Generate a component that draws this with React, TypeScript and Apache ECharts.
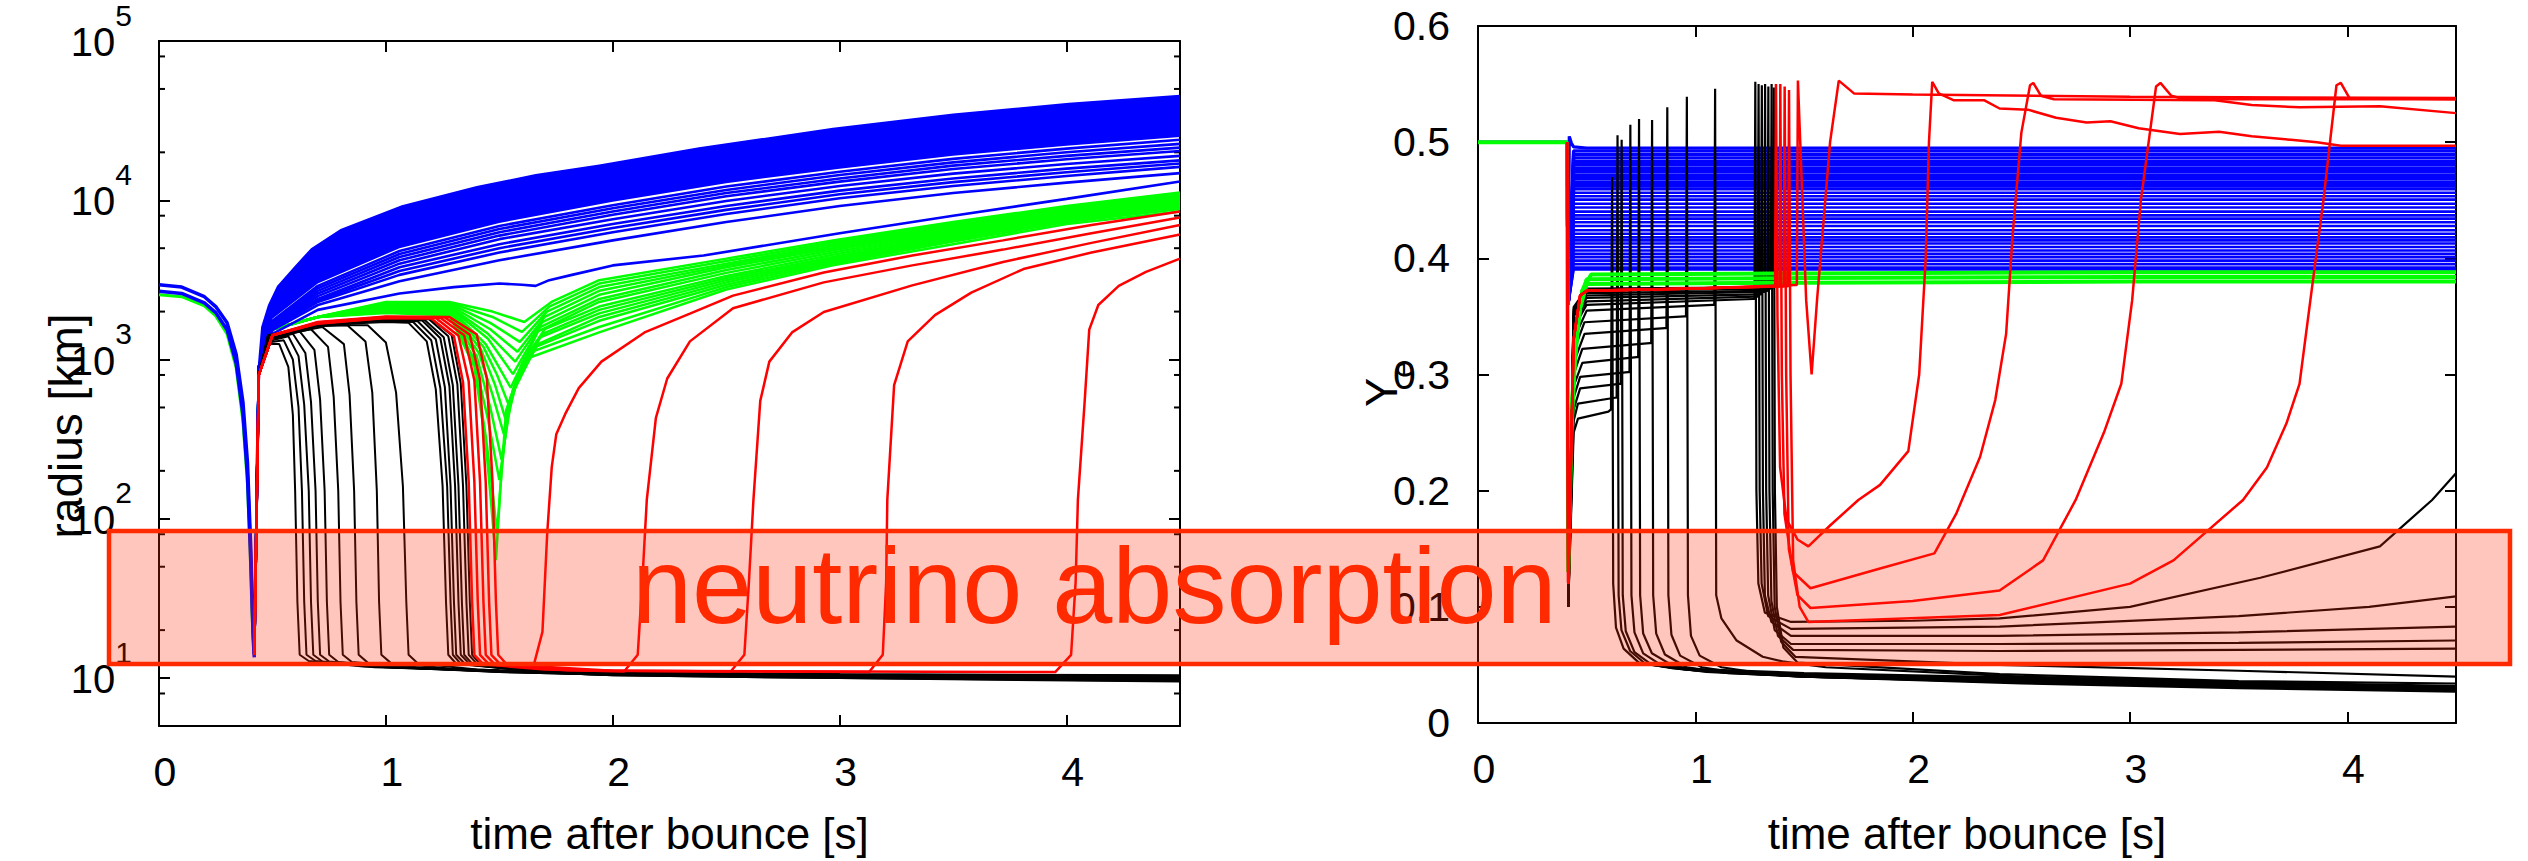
import React, { useEffect, useRef } from 'react';
import * as echarts from 'echarts';

const FONT = '"Liberation Sans", Arial, Helvetica, sans-serif';

// ---------------- axis ticks ----------------
const xTicks = [0, 1, 2, 3, 4];
const radiusMinorTicks = [8, 20, 50, 80, 200, 500, 800, 2000, 5000, 8000, 20000, 50000, 80000];
const yeTicks = [0, 0.1, 0.2, 0.3, 0.4, 0.5, 0.6];

// ---------------- LEFT: radius [km] vs time ----------------
const infallGreen = [[0, 2550], [0.1, 2480], [0.2, 2170], [0.25, 1880], [0.3, 1450], [0.34, 890], [0.37, 410], [0.39, 165], [0.402, 60], [0.41, 25], [0.42, 14]];
const infallBlueTop = [[0, 2950], [0.1, 2850], [0.2, 2480], [0.25, 2150], [0.3, 1700], [0.34, 1080], [0.37, 540], [0.39, 225], [0.405, 62], [0.415, 20], [0.42, 14]];
const infallBlueLow = [[0, 2680], [0.1, 2600], [0.2, 2270], [0.25, 1970], [0.3, 1540], [0.34, 950], [0.37, 455], [0.39, 185], [0.405, 52], [0.415, 18], [0.42, 13.5]];

const blueBandTop = [[0.42, 14], [0.425, 200], [0.435, 900], [0.45, 1600], [0.48, 2200], [0.52, 2900], [0.6, 3900], [0.67, 5000], [0.8, 6600], [1.07, 9300], [1.4, 12300], [1.66, 14600], [1.94, 16800], [2.38, 21500], [2.97, 28500], [3.5, 35000], [4.01, 41000], [4.5, 46000]];
const blueBandBottom = [[0.42, 14], [0.43, 300], [0.44, 900], [0.5, 1800], [0.7, 3000], [1.06, 5000], [1.5, 7200], [2.0, 9800], [2.5, 12800], [3.0, 15800], [3.5, 19000], [4.0, 22000], [4.5, 25000]];

const blueLeftTimes = [0.42, 0.44, 0.5, 0.7, 1.06, 1.5, 2.0, 2.5, 3.0, 3.5, 4.0, 4.5];
const blueLeftRadii = [
  [14, 900, 1750, 2900, 4800, 6900, 9300, 12200, 15100, 18200, 21100, 24000],
  [14, 900, 1700, 2800, 4600, 6600, 8900, 11600, 14400, 17300, 20000, 22600],
  [14, 900, 1680, 2700, 4400, 6300, 8500, 11100, 13700, 16500, 19000, 21400],
  [14, 900, 1650, 2600, 4200, 6000, 8100, 10600, 13100, 15700, 18100, 20400],
  [14, 900, 1620, 2500, 4000, 5700, 7600, 9900, 12300, 14700, 16900, 19000],
  [14, 900, 1600, 2400, 3800, 5300, 7100, 9200, 11500, 13700, 15800, 17800],
  [14, 900, 1580, 2350, 3600, 5000, 6700, 8700, 10900, 13000, 15000, 17000],
  [14, 900, 1560, 2300, 3400, 4700, 6300, 8200, 10300, 12300, 14200, 16200],
  [14, 900, 1530, 2200, 3100, 4200, 5600, 7300, 9200, 11100, 12900, 14800],
];
const blueLeftLowest = [[0.42, 14], [0.44, 800], [0.5, 1450], [0.7, 2050], [1.06, 2600], [1.3, 2850], [1.5, 3000], [1.6, 2950], [1.66, 2900], [1.72, 3150], [1.82, 3400], [2.0, 3900], [2.4, 4500], [3.0, 6200], [3.5, 8000], [4.0, 10200], [4.5, 13100]];

const greenLeftEarly = [[0.42, 14], [0.44, 900], [0.5, 1550], [0.7, 1850]];
const greenLeftLines = [
  [[1.0, 2300], [1.28, 2300], [1.47, 2000], [1.61, 1720], [1.73, 2300], [1.94, 3150], [2.5, 4300], [2.97, 5600], [3.5, 7300], [4.0, 9200], [4.5, 11200]],
  [[1.0, 2270], [1.28, 2270], [1.47, 1850], [1.60, 1490], [1.72, 2150], [1.94, 3000], [2.5, 4150], [2.97, 5450], [3.5, 7150], [4.0, 9000], [4.5, 11000]],
  [[1.0, 2240], [1.28, 2240], [1.46, 1700], [1.59, 1290], [1.71, 2000], [1.94, 2850], [2.5, 4000], [2.97, 5300], [3.5, 7000], [4.0, 8850], [4.5, 10800]],
  [[1.0, 2210], [1.28, 2200], [1.46, 1550], [1.58, 1120], [1.70, 1850], [1.94, 2700], [2.5, 3900], [2.97, 5150], [3.5, 6850], [4.0, 8700], [4.5, 10600]],
  [[1.0, 2180], [1.28, 2160], [1.45, 1450], [1.57, 970], [1.69, 1720], [1.94, 2550], [2.5, 3800], [2.97, 5000], [3.5, 6700], [4.0, 8550], [4.5, 10400]],
  [[1.0, 2150], [1.28, 2130], [1.45, 1350], [1.56, 810], [1.68, 1600], [1.94, 2400], [2.5, 3650], [2.97, 4850], [3.5, 6550], [4.0, 8400], [4.5, 10200]],
  [[1.0, 2120], [1.28, 2100], [1.44, 1250], [1.55, 665], [1.67, 1500], [1.94, 2300], [2.5, 3500], [2.97, 4700], [3.5, 6400], [4.0, 8250], [4.5, 10000]],
  [[1.0, 2090], [1.28, 2070], [1.43, 1200], [1.49, 800], [1.54, 525], [1.60, 950], [1.70, 1550], [1.94, 2150], [2.5, 3350], [2.97, 4550], [3.5, 6250], [4.0, 8100], [4.5, 9800]],
  [[1.0, 2060], [1.28, 2040], [1.42, 1150], [1.48, 700], [1.53, 410], [1.59, 850], [1.69, 1450], [1.94, 2050], [2.5, 3250], [2.97, 4400], [3.5, 6100], [4.0, 7950], [4.5, 9600]],
  [[1.0, 2040], [1.28, 2010], [1.41, 1100], [1.47, 600], [1.52, 340], [1.58, 780], [1.68, 1380], [1.94, 1950], [2.5, 3150], [2.97, 4300], [3.5, 5950], [4.0, 7800], [4.5, 9400]],
  [[1.0, 2020], [1.28, 1990], [1.40, 1050], [1.46, 500], [1.51, 235], [1.56, 650], [1.67, 1250], [1.94, 1850], [2.5, 3050], [2.97, 4200], [3.5, 5800], [4.0, 7650], [4.5, 9200]],
  [[1.0, 2000], [1.28, 1960], [1.39, 1000], [1.45, 420], [1.50, 175], [1.55, 580], [1.66, 1200], [1.94, 1750], [2.5, 2950], [2.97, 4100], [3.5, 5650], [4.0, 7500], [4.5, 9000]],
  [[1.0, 1980], [1.28, 1930], [1.39, 950], [1.44, 330], [1.47, 150], [1.49, 81], [1.51, 200], [1.54, 520], [1.63, 1100], [1.94, 1600], [2.5, 2850], [2.97, 4000], [3.5, 5500], [4.0, 7300], [4.5, 8800]],
  [[1.0, 1960], [1.28, 1900], [1.39, 900], [1.44, 300], [1.465, 120], [1.485, 55], [1.505, 160], [1.53, 480], [1.61, 1000], [1.94, 1480], [2.5, 2750], [2.97, 3900], [3.5, 5300], [4.0, 7100], [4.5, 8500]],
];

const blackLeftLines = [
  [[0.42, 14], [0.44, 800], [0.48, 1250], [0.53, 1250], [0.57, 900], [0.59, 450], [0.60, 150], [0.61, 30], [0.62, 14], [0.66, 12.8], [0.9, 11.8], [1.5, 11.2], [2.0, 10.8], [3.0, 10.5], [4.5, 10.3]],
  [[0.42, 14], [0.44, 800], [0.48, 1280], [0.55, 1320], [0.59, 1000], [0.615, 500], [0.63, 150], [0.64, 30], [0.65, 14], [0.69, 12.8], [0.95, 11.7], [1.5, 11.1], [2.0, 10.7], [3.0, 10.4], [4.5, 10.2]],
  [[0.42, 14], [0.44, 800], [0.48, 1300], [0.57, 1400], [0.615, 1050], [0.64, 520], [0.66, 150], [0.67, 30], [0.68, 14], [0.72, 12.7], [1.0, 11.7], [1.5, 11.1], [2.0, 10.7], [3.0, 10.4], [4.5, 10.1]],
  [[0.42, 14], [0.44, 800], [0.48, 1320], [0.59, 1450], [0.645, 1100], [0.67, 540], [0.69, 150], [0.70, 30], [0.71, 14], [0.75, 12.7], [1.05, 11.6], [1.5, 11.0], [2.0, 10.6], [3.0, 10.3], [4.5, 10.0]],
  [[0.42, 14], [0.44, 800], [0.48, 1340], [0.62, 1500], [0.685, 1150], [0.71, 560], [0.73, 150], [0.74, 30], [0.75, 14], [0.79, 12.6], [1.1, 11.6], [1.5, 11.0], [2.0, 10.6], [3.0, 10.2], [4.5, 9.9]],
  [[0.42, 14], [0.44, 800], [0.48, 1360], [0.67, 1550], [0.745, 1200], [0.77, 580], [0.79, 150], [0.80, 30], [0.81, 14], [0.85, 12.6], [1.15, 11.5], [1.5, 10.9], [2.0, 10.5], [3.0, 10.2], [4.5, 9.8]],
  [[0.42, 14], [0.44, 800], [0.48, 1380], [0.72, 1600], [0.815, 1250], [0.84, 600], [0.86, 150], [0.87, 30], [0.88, 14], [0.92, 12.5], [1.2, 11.5], [1.5, 10.9], [2.0, 10.5], [3.0, 10.1], [4.5, 9.7]],
  [[0.42, 14], [0.44, 800], [0.48, 1400], [0.7, 1620], [0.83, 1640], [0.91, 1300], [0.94, 620], [0.96, 150], [0.97, 30], [0.98, 14], [1.02, 12.5], [1.3, 11.4], [2.0, 10.4], [3.0, 10.0], [4.5, 9.6]],
  [[0.42, 14], [0.44, 800], [0.48, 1420], [0.7, 1650], [0.92, 1640], [1.0, 1280], [1.045, 620], [1.075, 160], [1.09, 30], [1.10, 14], [1.14, 12.4], [1.4, 11.3], [2.0, 10.4], [3.0, 10.0], [4.5, 9.5]],
  [[0.42, 14], [0.44, 800], [0.5, 1400], [0.7, 1650], [1.0, 1720], [1.1, 1700], [1.18, 1300], [1.22, 650], [1.25, 160], [1.265, 30], [1.275, 14], [1.31, 12.3], [1.6, 11.2], [2.0, 10.9], [3.0, 10.6], [4.5, 10.4]],
  [[0.42, 14], [0.44, 800], [0.5, 1400], [0.7, 1660], [1.0, 1740], [1.12, 1720], [1.2, 1320], [1.24, 660], [1.27, 160], [1.285, 30], [1.295, 14], [1.33, 12.3], [1.6, 11.2], [2.0, 10.8], [3.0, 10.5], [4.5, 10.3]],
  [[0.42, 14], [0.44, 800], [0.5, 1400], [0.7, 1670], [1.0, 1760], [1.14, 1740], [1.22, 1340], [1.26, 670], [1.285, 160], [1.30, 30], [1.31, 14], [1.35, 12.2], [1.65, 11.1], [2.0, 10.8], [3.0, 10.5], [4.5, 10.2]],
  [[0.42, 14], [0.44, 800], [0.5, 1400], [0.7, 1680], [1.0, 1780], [1.16, 1760], [1.24, 1360], [1.28, 680], [1.305, 160], [1.32, 30], [1.33, 14], [1.37, 12.2], [1.7, 11.1], [2.0, 10.7], [3.0, 10.4], [4.5, 10.1]],
  [[0.42, 14], [0.44, 800], [0.5, 1400], [0.7, 1690], [1.0, 1790], [1.17, 1780], [1.255, 1380], [1.295, 690], [1.32, 160], [1.335, 30], [1.345, 14], [1.385, 12.1], [1.7, 11.0], [2.0, 10.7], [3.0, 10.3], [4.5, 10.0]],
  [[0.42, 14], [0.44, 800], [0.5, 1400], [0.7, 1700], [1.0, 1800], [1.19, 1790], [1.275, 1400], [1.315, 700], [1.34, 160], [1.355, 30], [1.365, 14], [1.405, 12.1], [1.75, 11.0], [2.0, 10.6], [3.0, 10.3], [4.5, 9.9]],
  [[0.42, 14], [0.44, 800], [0.5, 1400], [0.7, 1710], [1.0, 1810], [1.2, 1800], [1.29, 1420], [1.33, 710], [1.355, 160], [1.37, 30], [1.38, 14], [1.42, 12.0], [1.8, 11.0], [2.0, 10.6], [3.0, 10.2], [4.5, 9.8]],
];

const redLeftLines = [
  [[0.42, 14], [0.44, 800], [0.5, 1420], [0.7, 1680], [1.0, 1820], [1.2, 1810], [1.30, 1400], [1.34, 720], [1.365, 170], [1.38, 30], [1.39, 14], [1.43, 12.2], [1.7, 11.3], [2.05, 11.0], [2.11, 14], [2.13, 40], [2.15, 132], [2.19, 430], [2.24, 760], [2.34, 1300], [2.53, 2100], [2.93, 3050], [3.32, 3900], [3.72, 4900], [4.11, 6200], [4.5, 7800]],
  [[0.42, 14], [0.44, 800], [0.5, 1420], [0.7, 1690], [1.0, 1830], [1.22, 1820], [1.32, 1410], [1.365, 730], [1.39, 170], [1.405, 30], [1.415, 14], [1.455, 12.2], [1.8, 11.2], [2.52, 11.0], [2.58, 14], [2.60, 40], [2.62, 132], [2.65, 550], [2.69, 970], [2.79, 1480], [2.93, 1990], [3.32, 2920], [3.72, 4100], [4.11, 5400], [4.5, 7000]],
  [[0.42, 14], [0.44, 800], [0.5, 1420], [0.7, 1700], [1.0, 1840], [1.24, 1830], [1.345, 1420], [1.39, 740], [1.415, 170], [1.43, 30], [1.44, 14], [1.48, 12.2], [1.9, 11.1], [3.13, 10.9], [3.19, 14], [3.205, 40], [3.21, 132], [3.24, 690], [3.30, 1300], [3.42, 1900], [3.58, 2630], [3.81, 3700], [4.11, 4700], [4.5, 6100]],
  [[0.42, 14], [0.44, 800], [0.5, 1420], [0.7, 1710], [1.0, 1850], [1.26, 1840], [1.37, 1430], [1.415, 750], [1.44, 170], [1.455, 30], [1.465, 14], [1.505, 12.2], [2.0, 11.1], [3.95, 10.9], [4.02, 14], [4.04, 40], [4.05, 132], [4.08, 550], [4.10, 1540], [4.14, 2200], [4.23, 2900], [4.35, 3550], [4.5, 4300]],
  [[0.42, 14], [0.44, 800], [0.5, 1420], [0.7, 1720], [1.0, 1860], [1.28, 1850], [1.40, 1440], [1.445, 760], [1.47, 170], [1.485, 30], [1.495, 14], [1.53, 12.3], [1.62, 12.0], [1.652, 12.1], [1.69, 19.5], [1.711, 81], [1.731, 211], [1.751, 340], [1.79, 454], [1.85, 661], [1.95, 970], [2.14, 1480], [2.34, 1940], [2.53, 2520], [2.93, 3520], [3.32, 4500], [3.72, 5600], [4.11, 7000], [4.5, 8500]],
];

// ---------------- RIGHT: Y_e vs time ----------------
const blueRightTop = [[0, 0.5], [0.41, 0.5], [0.415, 0.36], [0.42, 0.505], [0.43, 0.499], [0.44, 0.496], [0.5, 0.495], [4.5, 0.495]];
const blueRightDenseLevels = [0.4925, 0.4895, 0.4865, 0.4835, 0.4805, 0.4775, 0.4745, 0.4715, 0.4685, 0.4655, 0.4625, 0.4598];
const blueRightSparseLevels = [0.4565, 0.4535, 0.4505, 0.447, 0.4438, 0.4402, 0.437, 0.4342, 0.431, 0.4278, 0.4242, 0.4212, 0.418, 0.4155, 0.4128, 0.4098, 0.4068, 0.4038, 0.401, 0.398, 0.395, 0.392, 0.3905];
const blueRightDrop = [[0.41, 0.5], [0.415, 0.36]];
const blueRightTimes = [0.44, 4.5];

const greenRightPre = [[0, 0.5], [0.41, 0.5], [0.415, 0.13], [0.43, 0.25], [0.45, 0.33], [0.48, 0.372], [0.5, 0.381]];
const greenRightLines = [
  [[0.43, 0.27], [0.46, 0.35], [0.5, 0.378], [1.5, 0.379], [3.0, 0.38], [4.5, 0.38]],
  [[0.44, 0.3], [0.47, 0.36], [0.5, 0.382], [1.5, 0.383], [3.0, 0.384], [4.5, 0.384]],
  [[0.45, 0.33], [0.48, 0.372], [0.52, 0.386], [1.5, 0.387], [3.0, 0.388], [4.5, 0.388]],
];

const blackRightLines = [
  [[0.41, 0.5], [0.415, 0.1], [0.44, 0.25], [0.46, 0.262], [0.6, 0.268], [0.612, 0.27], [0.617, 0.47], [0.622, 0.12], [0.635, 0.082], [0.67, 0.064], [0.74, 0.052], [0.9, 0.047], [1.5, 0.043], [2.5, 0.039], [3.5, 0.035], [4.5, 0.032]],
  [[0.41, 0.5], [0.415, 0.1], [0.44, 0.26], [0.46, 0.275], [0.63, 0.28], [0.638, 0.28], [0.642, 0.506], [0.647, 0.11], [0.66, 0.08], [0.7, 0.062], [0.77, 0.051], [0.95, 0.046], [1.5, 0.042], [2.5, 0.038], [3.5, 0.034], [4.5, 0.031]],
  [[0.41, 0.5], [0.415, 0.1], [0.44, 0.27], [0.47, 0.288], [0.65, 0.292], [0.657, 0.292], [0.661, 0.502], [0.666, 0.11], [0.68, 0.079], [0.72, 0.061], [0.8, 0.05], [1.0, 0.045], [1.5, 0.041], [2.5, 0.037], [3.5, 0.033], [4.5, 0.03]],
  [[0.41, 0.5], [0.415, 0.1], [0.44, 0.28], [0.47, 0.298], [0.69, 0.302], [0.697, 0.302], [0.701, 0.515], [0.706, 0.11], [0.72, 0.078], [0.76, 0.06], [0.85, 0.049], [1.05, 0.044], [1.5, 0.04], [2.5, 0.036], [3.5, 0.032], [4.5, 0.029]],
  [[0.41, 0.5], [0.415, 0.1], [0.44, 0.29], [0.48, 0.31], [0.73, 0.315], [0.737, 0.315], [0.741, 0.52], [0.746, 0.11], [0.76, 0.077], [0.8, 0.06], [0.9, 0.049], [1.1, 0.044], [1.5, 0.04], [2.5, 0.035], [3.5, 0.031], [4.5, 0.028]],
  [[0.41, 0.5], [0.415, 0.1], [0.44, 0.3], [0.48, 0.322], [0.79, 0.327], [0.797, 0.327], [0.801, 0.519], [0.806, 0.11], [0.82, 0.077], [0.86, 0.059], [0.96, 0.048], [1.15, 0.043], [1.5, 0.04], [2.5, 0.035], [3.5, 0.031], [4.5, 0.028]],
  [[0.41, 0.5], [0.415, 0.1], [0.44, 0.31], [0.49, 0.335], [0.86, 0.34], [0.867, 0.34], [0.871, 0.53], [0.876, 0.11], [0.89, 0.076], [0.93, 0.058], [1.03, 0.048], [1.2, 0.043], [1.5, 0.04], [2.5, 0.034], [3.5, 0.03], [4.5, 0.027]],
  [[0.41, 0.5], [0.415, 0.1], [0.44, 0.32], [0.49, 0.345], [0.95, 0.35], [0.957, 0.35], [0.961, 0.539], [0.966, 0.11], [0.98, 0.075], [1.02, 0.058], [1.12, 0.048], [1.3, 0.043], [1.6, 0.04], [2.5, 0.035], [3.5, 0.031], [4.5, 0.028]],
  [[0.41, 0.5], [0.415, 0.1], [0.44, 0.33], [0.5, 0.355], [1.08, 0.36], [1.087, 0.36], [1.091, 0.546], [1.096, 0.11], [1.12, 0.09], [1.19, 0.071], [1.31, 0.057], [1.4, 0.053], [1.6, 0.048], [2.5, 0.04], [3.5, 0.035], [4.5, 0.031]],
  [[0.41, 0.5], [0.415, 0.1], [0.44, 0.34], [0.5, 0.36], [1.265, 0.365], [1.272, 0.365], [1.276, 0.552], [1.281, 0.2], [1.29, 0.12], [1.32, 0.095], [1.44, 0.087], [2.0, 0.088], [2.4, 0.09], [3.0, 0.1], [3.6, 0.125], [4.15, 0.152], [4.39, 0.192], [4.5, 0.215]],
  [[0.41, 0.5], [0.415, 0.1], [0.44, 0.345], [0.5, 0.363], [1.28, 0.367], [1.287, 0.367], [1.291, 0.55], [1.296, 0.2], [1.305, 0.12], [1.335, 0.092], [1.44, 0.081], [2.4, 0.083], [3.5, 0.092], [4.1, 0.1], [4.5, 0.109]],
  [[0.41, 0.5], [0.415, 0.1], [0.44, 0.35], [0.5, 0.366], [1.295, 0.369], [1.302, 0.369], [1.306, 0.549], [1.311, 0.2], [1.32, 0.11], [1.35, 0.087], [1.44, 0.075], [2.4, 0.075], [3.5, 0.078], [4.5, 0.083]],
  [[0.41, 0.5], [0.415, 0.1], [0.44, 0.352], [0.5, 0.368], [1.31, 0.371], [1.317, 0.371], [1.321, 0.55], [1.326, 0.2], [1.335, 0.11], [1.365, 0.08], [1.44, 0.068], [2.4, 0.068], [3.5, 0.069], [4.5, 0.071]],
  [[0.41, 0.5], [0.415, 0.1], [0.44, 0.354], [0.5, 0.37], [1.325, 0.372], [1.332, 0.372], [1.336, 0.548], [1.341, 0.2], [1.35, 0.105], [1.38, 0.075], [1.45, 0.063], [2.4, 0.062], [3.5, 0.063], [4.5, 0.064]],
  [[0.41, 0.5], [0.415, 0.1], [0.44, 0.356], [0.5, 0.372], [1.34, 0.374], [1.347, 0.374], [1.351, 0.55], [1.356, 0.2], [1.365, 0.1], [1.395, 0.07], [1.46, 0.057], [2.4, 0.05], [3.5, 0.045], [4.5, 0.04]],
  [[0.41, 0.5], [0.415, 0.1], [0.44, 0.358], [0.5, 0.374], [1.35, 0.375], [1.357, 0.375], [1.361, 0.547], [1.366, 0.2], [1.375, 0.1], [1.405, 0.065], [1.47, 0.052], [2.4, 0.042], [3.5, 0.036], [4.5, 0.034]],
];

const redRightPre = [[0.41, 0.5], [0.415, 0.12], [0.44, 0.33], [0.47, 0.368], [0.5, 0.372], [1.0, 0.374]];
const redRightLines = [
  [[1.36, 0.376], [1.367, 0.376], [1.371, 0.55], [1.378, 0.35], [1.39, 0.22], [1.42, 0.175], [1.47, 0.158], [1.52, 0.152], [1.62, 0.17], [1.75, 0.192], [1.85, 0.205], [1.98, 0.234], [2.03, 0.3], [2.06, 0.4], [2.075, 0.5], [2.09, 0.552], [2.12, 0.542], [2.19, 0.536], [2.33, 0.536], [2.4, 0.529], [2.53, 0.528], [2.66, 0.521], [2.8, 0.517], [2.91, 0.518], [3.04, 0.512], [3.23, 0.507], [3.41, 0.509], [3.56, 0.505], [3.74, 0.502], [3.86, 0.5], [3.97, 0.497], [4.5, 0.497]],
  [[1.38, 0.376], [1.387, 0.376], [1.391, 0.55], [1.398, 0.3], [1.41, 0.18], [1.45, 0.13], [1.53, 0.116], [1.85, 0.133], [2.1, 0.146], [2.2, 0.18], [2.31, 0.229], [2.38, 0.278], [2.43, 0.335], [2.46, 0.42], [2.5, 0.508], [2.54, 0.549], [2.555, 0.551], [2.59, 0.54], [2.65, 0.537], [3.39, 0.536], [3.56, 0.532], [3.78, 0.53], [4.15, 0.531], [4.5, 0.525]],
  [[1.4, 0.376], [1.407, 0.376], [1.411, 0.548], [1.418, 0.3], [1.43, 0.15], [1.47, 0.11], [1.53, 0.099], [2.0, 0.105], [2.4, 0.114], [2.6, 0.14], [2.75, 0.192], [2.88, 0.25], [2.96, 0.292], [3.01, 0.364], [3.05, 0.45], [3.12, 0.548], [3.14, 0.551], [3.19, 0.54], [3.25, 0.537], [4.5, 0.537]],
  [[1.42, 0.376], [1.427, 0.376], [1.431, 0.545], [1.438, 0.3], [1.45, 0.14], [1.48, 0.1], [1.52, 0.087], [2.4, 0.093], [3.0, 0.12], [3.2, 0.14], [3.52, 0.192], [3.63, 0.22], [3.72, 0.258], [3.78, 0.292], [3.83, 0.364], [3.89, 0.45], [3.95, 0.549], [3.97, 0.551], [4.01, 0.538], [4.5, 0.537]],
  [[1.46, 0.377], [1.467, 0.377], [1.472, 0.553], [1.51, 0.364], [1.535, 0.3], [1.56, 0.364], [1.62, 0.5], [1.66, 0.553], [1.73, 0.542], [2.0, 0.541], [3.0, 0.539], [4.5, 0.538]],
];

// ---------------- colours ----------------
const BLUE = '#0000ff';
const GREEN = '#00ff00';
const RED = '#ff0000';
const BLACK = '#000000';

function leftLine(data: any, color: string, width: number) {
  return { type: 'line', xAxisIndex: 0, yAxisIndex: 0, data, symbol: 'none', showSymbol: false, silent: true, lineStyle: { color, width }, clip: true };
}
function rightLine(data: any, color: string, width: number) {
  return { type: 'line', xAxisIndex: 2, yAxisIndex: 2, data, symbol: 'none', showSymbol: false, silent: true, lineStyle: { color, width }, clip: true };
}

function xAxisCfg(grid: number, position: string, labels: boolean) {
  return {
    gridIndex: grid, type: 'value', min: 0, max: 4.5, interval: 1, position,
    axisLine: { show: true, onZero: false, lineStyle: { color: '#000', width: 2 } },
    axisTick: { show: true, inside: true, length: 11, lineStyle: { color: '#000', width: 2 } },
    axisLabel: {
      show: labels, margin: 25, fontSize: 41, fontFamily: FONT, color: '#000', padding: [0, 0, 0, 12],
      formatter: (v: number) => (xTicks.indexOf(v) >= 0 ? String(v) : ''),
    },
    splitLine: { show: false },
    ...(labels ? {
      name: 'time after bounce [s]', nameLocation: 'middle', nameGap: grid === 0 ? 85 : 88,
      nameTextStyle: { fontSize: 44, fontFamily: FONT, color: '#000' },
    } : {}),
  };
}

export default function App() {
  const ref = useRef<HTMLDivElement>(null);
  useEffect(() => {
    if (!ref.current) return;
    const chart = echarts.init(ref.current, null, { renderer: 'svg' });
    const series: any[] = [];

    // ----- left plot -----
    const bluePolygon = [...blueBandTop, ...blueBandBottom.slice().reverse()];
    greenLeftLines.forEach((l) => series.push(leftLine([...greenLeftEarly, ...l], GREEN, 2.5)));
    series.push(leftLine(infallGreen, GREEN, 3));
    series.push({
      type: 'custom', xAxisIndex: 0, yAxisIndex: 0, silent: true, data: bluePolygon,
      renderItem: (params: any, api: any) => {
        if (params.dataIndex !== 0) return null;
        return { type: 'polygon', shape: { points: bluePolygon.map((p) => api.coord(p)) }, style: { fill: BLUE } };
      },
    });
    series.push(leftLine(infallBlueTop, BLUE, 3.5));
    series.push(leftLine(infallBlueLow, BLUE, 3.5));
    blueLeftRadii.forEach((vals) => series.push(leftLine(blueLeftTimes.map((t, i) => [t, vals[i]]), BLUE, 2.6)));
    series.push(leftLine(blueLeftLowest, BLUE, 2.6));
    blackLeftLines.forEach((l) => series.push(leftLine(l, BLACK, 2)));
    redLeftLines.forEach((l) => series.push(leftLine(l, RED, 2.5)));
    series.push({
      type: 'custom', xAxisIndex: 0, yAxisIndex: 0, silent: true, data: radiusMinorTicks.map((v) => [0, v]),
      renderItem: (params: any, api: any) => {
        const v = api.value(1);
        const a = api.coord([0, v]);
        const b = api.coord([4.5, v]);
        const st = { stroke: '#000', lineWidth: 2 };
        return {
          type: 'group', children: [
            { type: 'line', shape: { x1: a[0], y1: a[1], x2: a[0] + 6, y2: a[1] }, style: st },
            { type: 'line', shape: { x1: b[0] - 6, y1: b[1], x2: b[0], y2: b[1] }, style: st },
          ],
        };
      },
    });

    // ----- right plot -----
    series.push(rightLine(blueRightTop, BLUE, 3.2));
    blueRightDenseLevels.forEach((lv) => series.push(rightLine([...blueRightDrop, ...blueRightTimes.map((t) => [t, lv])], BLUE, 3.4)));
    blueRightSparseLevels.forEach((lv) => series.push(rightLine([...blueRightDrop, ...blueRightTimes.map((t) => [t, lv])], BLUE, 2.6)));
    blackRightLines.forEach((l) => series.push(rightLine(l, BLACK, 2.2)));
    series.push(rightLine(greenRightPre, GREEN, 4));
    greenRightLines.forEach((l) => series.push(rightLine(l, GREEN, 4)));
    redRightLines.forEach((l) => series.push(rightLine([...redRightPre, ...l], RED, 2.5)));

    const logLabel = (v: number) => {
      const lg = Math.log10(v);
      const e = Math.round(lg);
      if (Math.abs(lg - e) > 1e-6) return '';
      return `{b|10}{s|${e}}`;
    };

    const option: any = {
      animation: false,
      backgroundColor: '#ffffff',
      grid: [
        { left: 159, top: 36, width: 1021, height: 690 },
        { left: 1478, top: 26, width: 978, height: 697 },
      ],
      xAxis: [xAxisCfg(0, 'bottom', true), xAxisCfg(0, 'top', false), xAxisCfg(1, 'bottom', true), xAxisCfg(1, 'top', false)],
      yAxis: [
        {
          gridIndex: 0, type: 'log', logBase: 10, min: 5, max: 100000, position: 'left',
          axisLine: { show: true, onZero: false, lineStyle: { color: '#000', width: 2 } },
          axisTick: { show: true, inside: true, length: 11, lineStyle: { color: '#000', width: 2 } },
          axisLabel: {
            show: true, margin: 27, formatter: logLabel, padding: [0, 0, 20, 0],
            rich: {
              b: { fontSize: 40, fontFamily: FONT, color: '#000', lineHeight: 62, verticalAlign: 'bottom' },
              s: { fontSize: 30, fontFamily: FONT, color: '#000', lineHeight: 30, verticalAlign: 'top' },
            },
          },
          splitLine: { show: false },
        },
        {
          gridIndex: 0, type: 'log', logBase: 10, min: 5, max: 100000, position: 'right',
          axisLine: { show: true, onZero: false, lineStyle: { color: '#000', width: 2 } },
          axisTick: { show: true, inside: true, length: 11, lineStyle: { color: '#000', width: 2 } },
          axisLabel: { show: false },
          splitLine: { show: false },
        },
        {
          gridIndex: 1, type: 'value', min: 0, max: 0.6, interval: 0.1, position: 'left',
          axisLine: { show: true, onZero: false, lineStyle: { color: '#000', width: 2 } },
          axisTick: { show: true, inside: true, length: 11, lineStyle: { color: '#000', width: 2 } },
          axisLabel: {
            show: true, margin: 28, fontSize: 41, fontFamily: FONT, color: '#000',
            formatter: (v: number) => {
              const k = yeTicks.findIndex((t) => Math.abs(t - v) < 1e-9);
              return k < 0 ? '' : (k === 0 ? '0' : yeTicks[k].toFixed(1));
            },
          },
          splitLine: { show: false },
        },
        {
          gridIndex: 1, type: 'value', min: 0, max: 0.6, interval: 0.1, position: 'right',
          axisLine: { show: true, onZero: false, lineStyle: { color: '#000', width: 2 } },
          axisTick: { show: true, inside: true, length: 11, lineStyle: { color: '#000', width: 2 } },
          axisLabel: { show: false },
          splitLine: { show: false },
        },
      ],
      series,
      graphic: [
        {
          type: 'text', x: 66, y: 426, rotation: Math.PI / 2, silent: true,
          style: { text: 'radius [km]', fontSize: 46, fontFamily: FONT, fill: '#000', align: 'center', verticalAlign: 'middle' },
        },
        {
          type: 'text', x: 1388, y: 384, rotation: Math.PI / 2, silent: true,
          style: {
            text: '{a|Y}{b|e}', align: 'center', verticalAlign: 'middle',
            rich: {
              a: { fontSize: 44, fontFamily: FONT, fill: '#000', lineHeight: 58, verticalAlign: 'top' },
              b: { fontSize: 30, fontFamily: FONT, fill: '#000', lineHeight: 30, verticalAlign: 'bottom' },
            },
          },
        },
        {
          type: 'rect', z: 100, silent: true,
          shape: { x: 109, y: 531, width: 2401, height: 133 },
          style: { fill: 'rgba(255,46,10,0.27)', stroke: '#ff2a00', lineWidth: 4.5 },
        },
        {
          type: 'text', z: 101, x: 632, y: 585, silent: true,
          style: { text: 'neutrino absorption', fontSize: 108, fontFamily: FONT, fill: '#ff2a00', align: 'left', verticalAlign: 'middle' },
        },
      ],
    };
    chart.setOption(option);
    return () => chart.dispose();
  }, []);
  return <div ref={ref} style={{ position: 'absolute', left: 0, top: 0, width: 2528, height: 861, background: '#fff' }} />;
}
